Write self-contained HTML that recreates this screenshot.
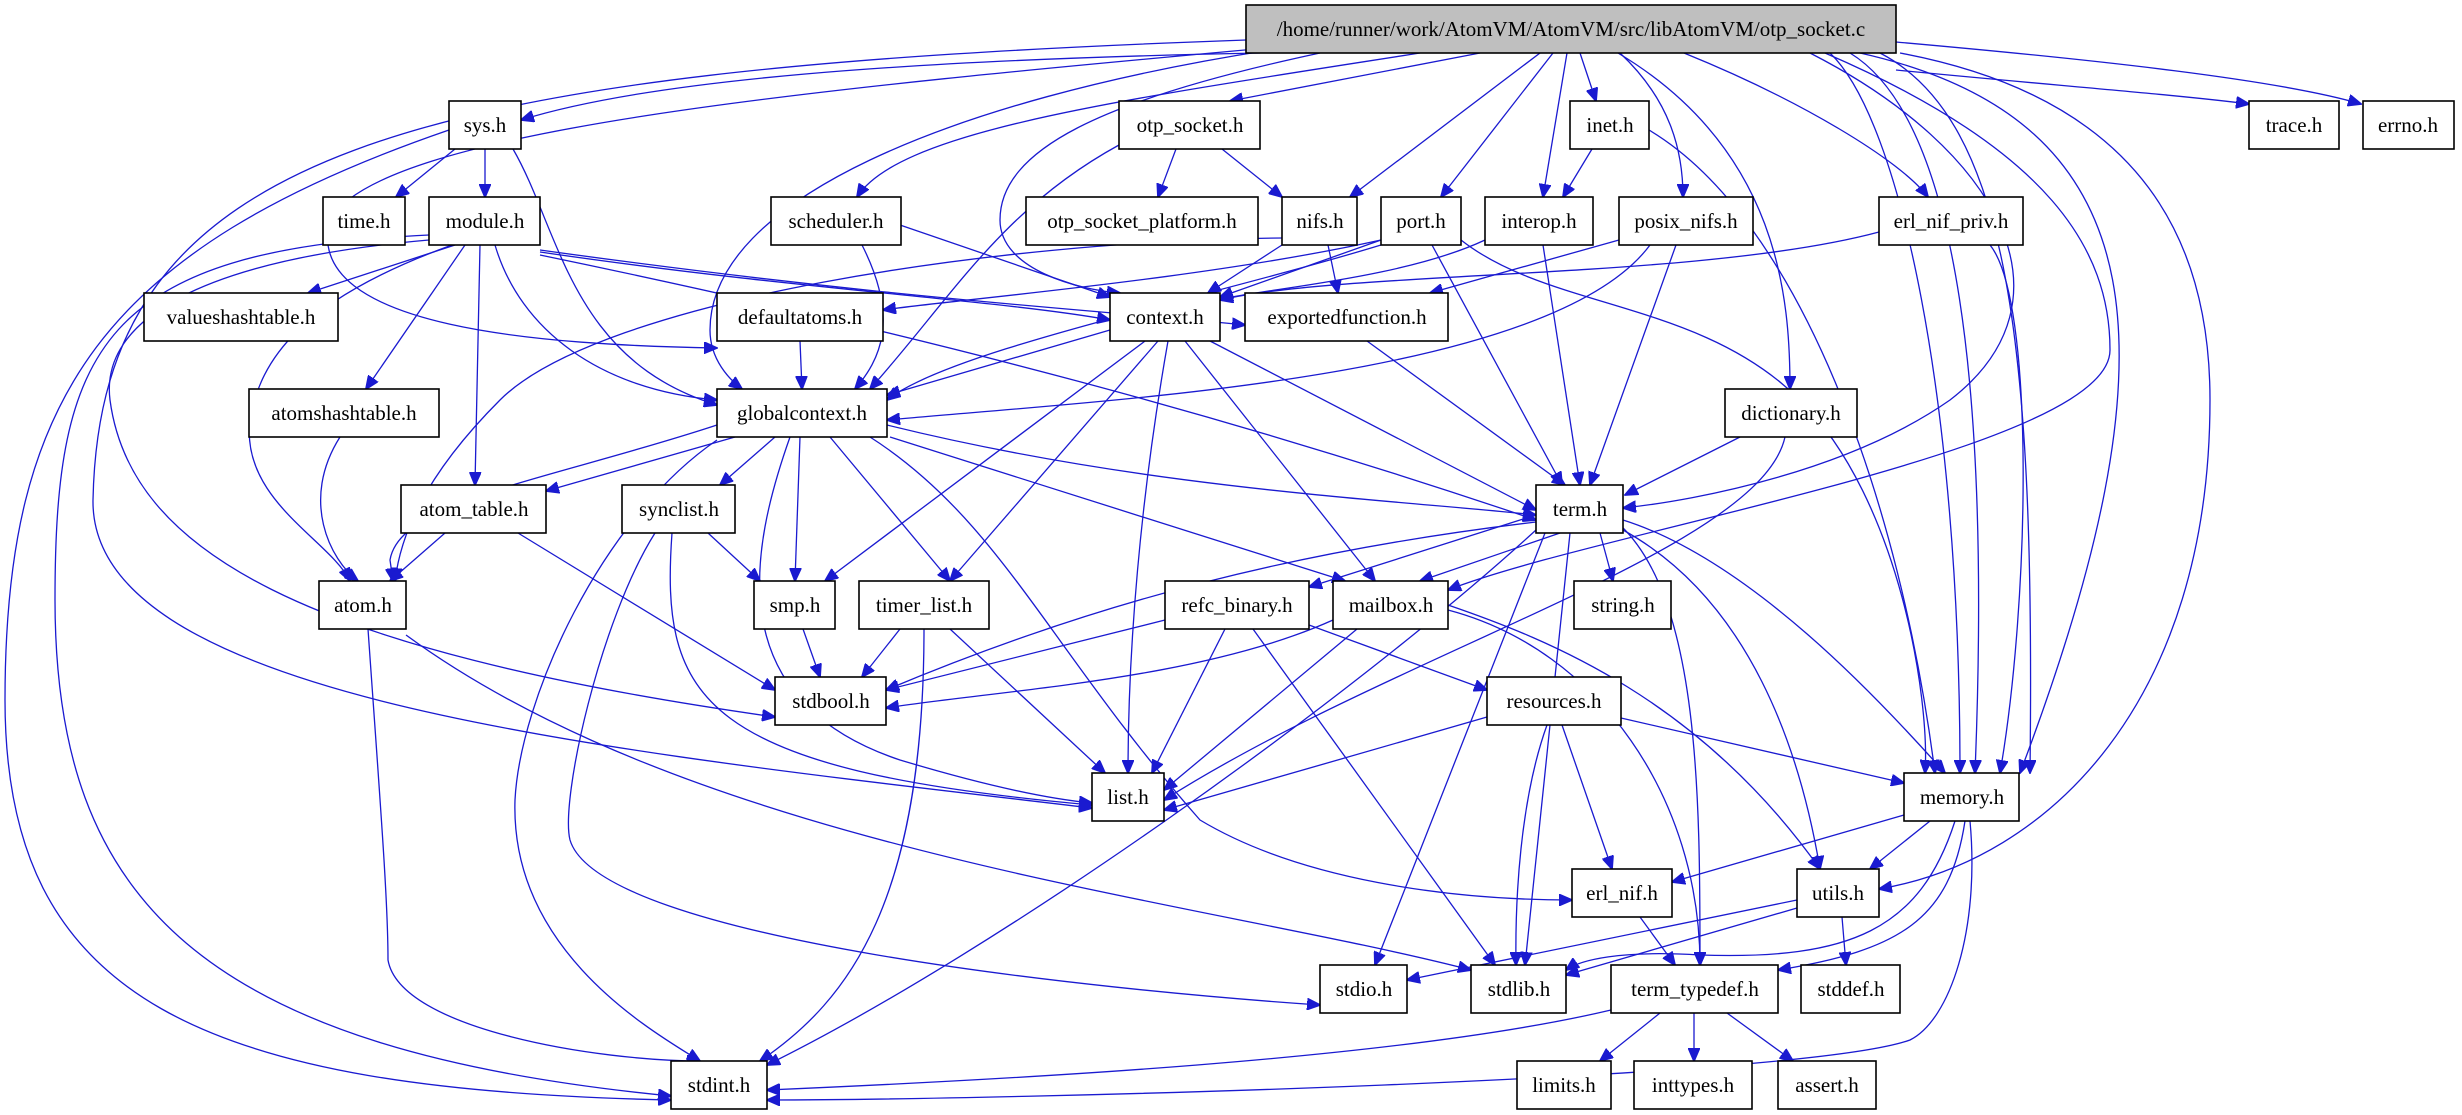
<!DOCTYPE html>
<html><head><meta charset="utf-8"><style>
html,body{margin:0;padding:0;background:#fff;}
svg{display:block}
text{font-family:"Liberation Serif",serif;font-size:21px;fill:#000;text-anchor:middle;}
.e{fill:none;stroke:#1a1ad0;stroke-width:1.3;marker-end:url(#a);}
.n{fill:#fff;stroke:#000;stroke-width:1.6;}
.s{fill:none;stroke:#999;stroke-width:2;}
</style></head><body>
<svg width="2462" height="1115" viewBox="0 0 2462 1115" xmlns="http://www.w3.org/2000/svg">
<defs><marker id="a" markerUnits="userSpaceOnUse" markerWidth="14" markerHeight="12" refX="13" refY="6" orient="auto"><path d="M0,0 L14,6 L0,12 z" fill="#1a1ad0" stroke="#1a1ad0"/></marker></defs>
<g>
<!-- top edges -->
<path class="e" d="M1260,53 C900,60 650,80 521,120"/>
<path class="e" d="M1480,53 L1230,101"/>
<path class="e" d="M1580,53 L1596,101"/>
<path class="e" d="M1896,70 C2050,85 2180,95 2249,104"/>
<path class="e" d="M1896,42 C2100,60 2280,80 2361,104"/>
<path class="e" d="M1420,53 C1120,100 900,130 857,197"/>
<path class="e" d="M1540,53 L1350,197"/>
<path class="e" d="M1553,53 L1441,197"/>
<path class="e" d="M1567,53 L1543,197"/>
<path class="e" d="M1620,53 C1670,100 1683,150 1683,197"/>
<path class="e" d="M1618,53 C1780,150 1790,300 1790,389"/>
<path class="e" d="M1684,53 C1800,100 1900,160 1928,197"/>
<path class="e" d="M1810,53 C2000,150 2080,300 1950,400 C1850,470 1700,500 1623,508"/>
<path class="e" d="M1825,53 C2050,150 2110,250 2110,350 C2110,450 1600,530 1448,590"/>
<path class="e" d="M1830,53 C1900,120 1960,400 1960,773"/>
<path class="e" d="M1850,53 C1960,120 1990,400 1975,773"/>
<path class="e" d="M1880,53 C2010,120 2035,350 2030,773"/>
<path class="e" d="M1900,53 C2150,100 2210,250 2210,400 C2210,700 2050,860 1879,889"/>
<path class="e" d="M1860,53 C2160,120 2180,350 2020,773"/>
<path class="e" d="M1300,45 C800,90 380,130 330,220 C300,330 550,345 717,348"/>
<path class="e" d="M1270,50 C950,100 710,200 710,330 C710,360 730,380 742,389"/>
<path class="e" d="M1320,53 C1100,100 1000,150 1000,220 C1000,270 1080,290 1120,293"/>
<path class="e" d="M1246,40 C400,70 100,150 93,500 C90,700 600,750 1092,808"/>
<!-- sys -->
<path class="e" d="M455,149 L396,197"/>
<path class="e" d="M485,149 L485,197"/>
<path class="e" d="M513,149 C560,230 570,360 717,405"/>
<path class="e" d="M449,130 C100,250 5,400 5,700 C5,1000 200,1090 671,1100"/>
<!-- module -->
<path class="e" d="M455,245 L308,293"/>
<path class="e" d="M465,245 L366,389"/>
<path class="e" d="M480,245 L475,485"/>
<path class="e" d="M452,245 C300,300 260,360 250,420 C240,500 330,540 350,581"/>
<path class="e" d="M495,245 C520,330 600,390 717,400"/>
<path class="e" d="M540,252 C800,290 1000,300 1110,320"/>
<path class="e" d="M540,250 C900,300 1100,310 1245,325"/>
<path class="e" d="M540,255 C1000,350 1300,440 1536,520"/>
<path class="e" d="M429,240 C200,260 100,320 110,400 C130,550 300,650 775,717"/>
<path class="e" d="M429,235 C100,250 55,350 55,600 C55,900 200,1050 671,1096"/>
<!-- otp_socket.h etc -->
<path class="e" d="M1176,149 L1158,197"/>
<path class="e" d="M1222,149 L1282,197"/>
<path class="e" d="M1119,145 C1000,210 950,300 870,389"/>
<path class="e" d="M900,225 L1110,297"/>
<path class="e" d="M862,245 C900,320 880,360 855,389"/>
<path class="e" d="M1592,149 L1563,197"/>
<path class="e" d="M1649,130 C1800,220 1900,500 1935,773"/>
<path class="e" d="M1282,238 C1000,240 600,300 500,400 C420,480 400,540 395,581"/>
<path class="e" d="M1282,245 L1208,293"/>
<path class="e" d="M1328,245 L1338,293"/>
<path class="e" d="M1381,240 L1220,297"/>
<path class="e" d="M1381,245 C1200,300 950,350 887,400"/>
<path class="e" d="M1381,240 C1200,280 950,300 883,310"/>
<path class="e" d="M1432,245 L1562,485"/>
<path class="e" d="M1461,240 C1550,310 1700,300 1800,400 C1900,500 1930,700 1925,773"/>
<path class="e" d="M1485,240 C1400,280 1250,290 1220,300"/>
<path class="e" d="M1543,245 L1580,485"/>
<path class="e" d="M1619,240 L1430,293"/>
<path class="e" d="M1650,245 C1550,380 1100,400 887,420"/>
<path class="e" d="M1676,245 L1590,485"/>
<path class="e" d="M1879,232 C1700,280 1350,270 1220,300"/>
<path class="e" d="M1990,245 C2035,300 2030,600 2000,773"/>
<!-- row3/4 -->
<path class="e" d="M800,341 L802,389"/>
<path class="e" d="M1110,330 L887,395"/>
<path class="e" d="M1210,341 L1536,510"/>
<path class="e" d="M1145,341 L825,581"/>
<path class="e" d="M1158,341 L950,581"/>
<path class="e" d="M1168,341 C1140,500 1128,650 1128,773"/>
<path class="e" d="M1185,341 L1375,581"/>
<path class="e" d="M1367,341 L1565,485"/>
<path class="e" d="M340,437 C300,500 330,560 358,581"/>
<path class="e" d="M735,437 L546,491"/>
<path class="e" d="M775,437 L720,485"/>
<path class="e" d="M800,437 L795,581"/>
<path class="e" d="M830,437 L950,581"/>
<path class="e" d="M790,437 C750,550 720,700 900,760 C1000,790 1060,800 1092,803"/>
<path class="e" d="M717,425 C550,480 400,500 390,560 L393,581"/>
<path class="e" d="M717,440 C600,520 520,700 515,800 C510,950 650,1030 700,1061"/>
<path class="e" d="M887,425 C1150,490 1400,500 1536,515"/>
<path class="e" d="M890,437 L1345,581"/>
<path class="e" d="M870,437 C1000,520 1050,650 1200,820 C1300,880 1450,900 1572,900"/>
<path class="e" d="M1740,437 L1625,495"/>
<path class="e" d="M1785,437 C1760,550 1400,650 1164,800"/>
<path class="e" d="M445,533 L390,581"/>
<path class="e" d="M518,533 L775,690"/>
<path class="e" d="M708,533 L760,581"/>
<path class="e" d="M655,533 C600,620 560,800 570,840 C600,940 1100,990 1320,1005"/>
<path class="e" d="M672,533 C660,700 700,770 1092,805"/>
<!-- term -->
<path class="e" d="M1536,515 L1309,587"/>
<path class="e" d="M1560,533 L1420,581"/>
<path class="e" d="M1600,533 L1613,581"/>
<path class="e" d="M1545,533 L1375,965"/>
<path class="e" d="M1570,533 L1525,965"/>
<path class="e" d="M1620,525 C1700,600 1700,800 1700,965"/>
<path class="e" d="M1623,530 C1750,600 1800,750 1820,869"/>
<path class="e" d="M1623,520 C1750,560 1880,700 1945,773"/>
<path class="e" d="M1536,530 C1350,700 1000,950 767,1065"/>
<path class="e" d="M1536,522 C1300,550 1100,600 886,690"/>
<!-- row6 -->
<path class="e" d="M368,629 C380,800 388,900 388,960 C400,1030 600,1061 700,1061"/>
<path class="e" d="M406,635 C700,850 1200,900 1471,970"/>
<path class="e" d="M803,629 L820,677"/>
<path class="e" d="M900,629 L862,677"/>
<path class="e" d="M950,629 L1105,773"/>
<path class="e" d="M924,629 C924,900 850,1000 760,1061"/>
<path class="e" d="M1165,620 L886,690"/>
<path class="e" d="M1225,629 L1152,773"/>
<path class="e" d="M1309,625 L1487,690"/>
<path class="e" d="M1253,629 L1495,965"/>
<path class="e" d="M1333,620 C1200,680 1000,690 886,708"/>
<path class="e" d="M1357,629 L1164,790"/>
<path class="e" d="M1448,605 C1550,640 1700,700 1820,869"/>
<path class="e" d="M1448,610 C1600,650 1700,800 1700,965"/>
<!-- lower -->
<path class="e" d="M1487,717 L1164,810"/>
<path class="e" d="M1621,718 L1904,783"/>
<path class="e" d="M1562,725 L1612,869"/>
<path class="e" d="M1547,725 C1520,800 1515,900 1516,965"/>
<path class="e" d="M1904,815 L1672,882"/>
<path class="e" d="M1930,821 L1870,869"/>
<path class="e" d="M1955,821 C1920,930 1850,960 1700,955 C1620,950 1580,960 1566,970"/>
<path class="e" d="M1965,821 C1950,920 1900,950 1778,970"/>
<path class="e" d="M1970,821 C1980,930 1950,1020 1910,1040 C1800,1080 1000,1100 767,1100"/>
<path class="e" d="M1640,917 L1675,965"/>
<path class="e" d="M1797,900 L1407,980"/>
<path class="e" d="M1797,908 L1566,975"/>
<path class="e" d="M1842,917 L1846,965"/>
<path class="e" d="M1660,1013 L1600,1061"/>
<path class="e" d="M1694,1013 L1694,1061"/>
<path class="e" d="M1727,1013 L1793,1061"/>
<path class="e" d="M1611,1010 C1400,1060 1000,1080 767,1090"/>
</g>
<g>
<rect x="1246" y="5" width="650" height="48" fill="#bfbfbf" stroke="#000" stroke-width="1.6"/><text x="1571" y="36">/home/runner/work/AtomVM/AtomVM/src/libAtomVM/otp_socket.c</text>
<rect class="n" x="449" y="101" width="72" height="48"/><text x="485" y="132">sys.h</text>
<rect class="n" x="1119" y="101" width="141" height="48"/><text x="1190" y="132">otp_socket.h</text>
<rect class="n" x="1570" y="101" width="79" height="48"/><text x="1610" y="132">inet.h</text>
<rect class="n" x="2249" y="101" width="90" height="48"/><text x="2294" y="132">trace.h</text>
<rect class="n" x="2363" y="101" width="91" height="48"/><text x="2408" y="132">errno.h</text>
<rect class="n" x="323" y="197" width="82" height="48"/><text x="364" y="228">time.h</text>
<rect class="n" x="429" y="197" width="111" height="48"/><text x="485" y="228">module.h</text>
<rect class="n" x="771" y="197" width="130" height="48"/><text x="836" y="228">scheduler.h</text>
<rect class="n" x="1026" y="197" width="232" height="48"/><text x="1142" y="228">otp_socket_platform.h</text>
<rect class="n" x="1282" y="197" width="75" height="48"/><text x="1320" y="228">nifs.h</text>
<rect class="n" x="1381" y="197" width="80" height="48"/><text x="1421" y="228">port.h</text>
<rect class="n" x="1485" y="197" width="108" height="48"/><text x="1539" y="228">interop.h</text>
<rect class="n" x="1619" y="197" width="134" height="48"/><text x="1686" y="228">posix_nifs.h</text>
<rect class="n" x="1879" y="197" width="144" height="48"/><text x="1951" y="228">erl_nif_priv.h</text>
<rect class="n" x="144" y="293" width="194" height="48"/><text x="241" y="324">valueshashtable.h</text>
<rect class="n" x="717" y="293" width="166" height="48"/><text x="800" y="324">defaultatoms.h</text>
<rect class="n" x="1110" y="293" width="110" height="48"/><text x="1165" y="324">context.h</text>
<rect class="n" x="1245" y="293" width="203" height="48"/><text x="1347" y="324">exportedfunction.h</text>
<rect class="n" x="249" y="389" width="190" height="48"/><text x="344" y="420">atomshashtable.h</text>
<rect class="n" x="717" y="389" width="170" height="48"/><text x="802" y="420">globalcontext.h</text>
<rect class="n" x="1725" y="389" width="132" height="48"/><text x="1791" y="420">dictionary.h</text>
<rect class="n" x="401" y="485" width="145" height="48"/><text x="474" y="516">atom_table.h</text>
<rect class="n" x="622" y="485" width="113" height="48"/><text x="679" y="516">synclist.h</text>
<rect class="n" x="1536" y="485" width="87" height="48"/><text x="1580" y="516">term.h</text>
<rect class="n" x="319" y="581" width="87" height="48"/><text x="363" y="612">atom.h</text>
<rect class="n" x="754" y="581" width="81" height="48"/><text x="795" y="612">smp.h</text>
<rect class="n" x="859" y="581" width="130" height="48"/><text x="924" y="612">timer_list.h</text>
<rect class="n" x="1165" y="581" width="144" height="48"/><text x="1237" y="612">refc_binary.h</text>
<rect class="n" x="1333" y="581" width="115" height="48"/><text x="1391" y="612">mailbox.h</text>
<rect class="n" x="1574" y="581" width="97" height="48"/><text x="1623" y="612">string.h</text>
<rect class="n" x="775" y="677" width="111" height="48"/><text x="831" y="708">stdbool.h</text>
<rect class="n" x="1487" y="677" width="134" height="48"/><text x="1554" y="708">resources.h</text>
<rect class="n" x="1092" y="773" width="72" height="48"/><text x="1128" y="804">list.h</text>
<rect class="n" x="1904" y="773" width="115" height="48"/><text x="1962" y="804">memory.h</text>
<rect class="n" x="1572" y="869" width="100" height="48"/><text x="1622" y="900">erl_nif.h</text>
<rect class="n" x="1797" y="869" width="82" height="48"/><text x="1838" y="900">utils.h</text>
<rect class="n" x="1320" y="965" width="87" height="48"/><text x="1364" y="996">stdio.h</text>
<rect class="n" x="1471" y="965" width="95" height="48"/><text x="1519" y="996">stdlib.h</text>
<rect class="n" x="1611" y="965" width="167" height="48"/><text x="1695" y="996">term_typedef.h</text>
<rect class="n" x="1801" y="965" width="99" height="48"/><text x="1851" y="996">stddef.h</text>
<rect class="n" x="671" y="1061" width="96" height="48"/><text x="719" y="1092">stdint.h</text>
<rect class="n" x="1517" y="1061" width="94" height="48"/><text x="1564" y="1092">limits.h</text>
<rect class="n" x="1634" y="1061" width="118" height="48"/><text x="1693" y="1092">inttypes.h</text>
<rect class="n" x="1778" y="1061" width="98" height="48"/><text x="1827" y="1092">assert.h</text>
</g>
</svg>
</body></html>
